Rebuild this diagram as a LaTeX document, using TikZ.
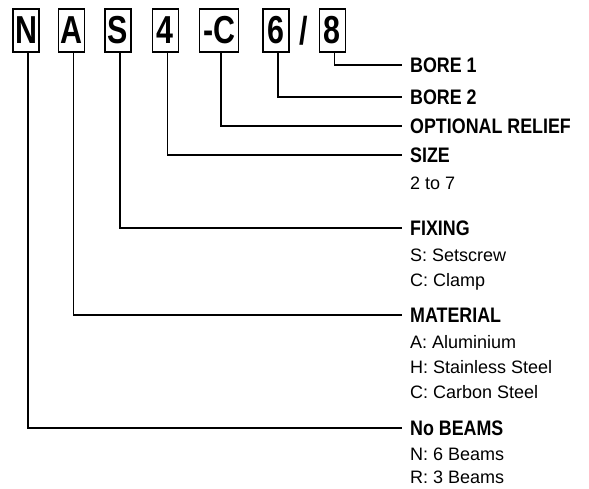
\documentclass[tikz,border=0pt]{standalone}
\usepackage{fontspec}
\setmainfont{Liberation Sans}
\newfontfamily\narrowsf{Liberation Sans}[FakeStretch=0.85]
\newfontfamily\boxsf{Liberation Sans}[FakeStretch=0.78]
\usetikzlibrary{positioning}

\begin{document}
\begin{tikzpicture}[
		x=1pt, y=-1pt,
		digit/.style={draw, line width=1.4pt, minimum width=26pt, minimum height=43pt, inner sep=0pt, font=\boxsf\bfseries\fontsize{39}{39}\selectfont},
		head/.style={anchor=west, inner xsep=8pt, inner ysep=0pt, text height=15pt, text depth=0pt, font=\narrowsf\bfseries\fontsize{21}{25}\selectfont},
		desc/.style={align=left, inner xsep=8pt, inner ysep=0pt, font=\fontsize{18}{25}\selectfont},
		lead/.style={line width=1.4pt}
		]
		\useasboundingbox (0,0) rectangle (589,488);
		
		% Code boxes
		\node[digit] (n) at (26,30.5) {N};
		\node[digit, right=18pt of n] (a) {A};
		\node[digit, right=19pt of a] (s) {S};
		\node[digit, right=20pt of s] (four) {4};
		\node[digit, minimum width=39pt, right=20pt of four] (c) {-C};
		\node[digit, right=23pt of c] (six) {6};
		\node[inner sep=0pt, font=\boxsf\bfseries\fontsize{39}{39}\selectfont, right=10pt of six] (slash) {/};
		\node[digit, right=10pt of slash] (eight) {8};
		
		% Headings
		\node[head] (bore1) at (402,65) {BORE 1};
		\node[head] (bore2) at (402,97) {BORE 2};
		\node[head] (relief) at (402,126) {OPTIONAL RELIEF};
		\node[head] (size) at (402,155) {SIZE};
		\node[head] (fixing) at (402,228) {FIXING};
		\node[head] (material) at (402,315) {MATERIAL};
		\node[head] (beams) at (402,428) {No BEAMS};
		
		% Options
		\node[desc, below right=14pt and 0pt of size.south west] (sizes) {2 to 7};
		\node[desc, below right=13pt and 0pt of fixing.south west] (fixings) {S: Setscrew\\C: Clamp};
		\node[desc, below right=13pt and 0pt of material.south west] (materials) {A: Aluminium\\H: Stainless Steel\\C: Carbon Steel};
		\node[desc, below right=12pt and 0pt, font=\fontsize{18}{23}\selectfont] at (beams.south west) (beamss) {N: 6 Beams\\R: 3 Beams};
		
		% Leaders
		\draw[lead] ([xshift=2pt]eight.south) |- (bore1.west);
		\draw[lead] ([xshift=2pt]six.south) |- (bore2.west);
		\draw[lead] ([xshift=2pt]c.south) |- (relief.west);
		\draw[lead] ([xshift=2pt]four.south) |- (size.west);
		\draw[lead] ([xshift=2pt]s.south) |- (fixing.west);
		\draw[lead] ([xshift=2pt]a.south) |- (material.west);
		\draw[lead] ([xshift=2pt]n.south) |- (beams.west);
		
	\end{tikzpicture}
\end{document}
